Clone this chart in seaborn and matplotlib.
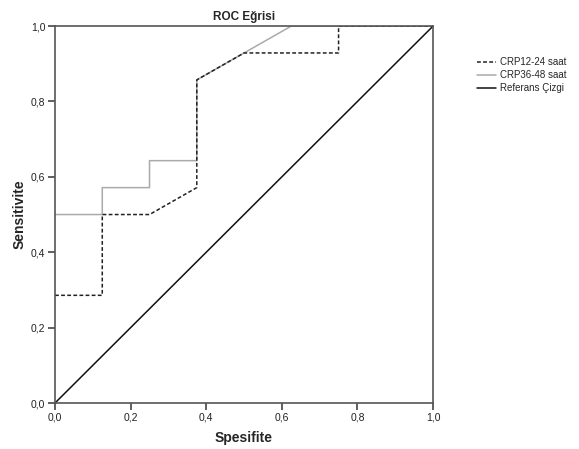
import numpy as np
import pandas as pd
import seaborn as sns
import matplotlib.pyplot as plt

#
# DATA
#

crp12_x = [0.0, 0.125, 0.125, 0.25, 0.375, 0.375, 0.5, 0.75, 0.75, 1.0]
crp12_y = [0.2857, 0.2857, 0.5, 0.5, 0.5714, 0.8571, 0.9286, 0.9286, 1.0, 1.0]

crp36_x = [0.0, 0.125, 0.125, 0.25, 0.25, 0.375, 0.375, 0.625, 1.0]
crp36_y = [0.5, 0.5, 0.5714, 0.5714, 0.6429, 0.6429, 0.8571, 1.0, 1.0]

ref_x = [0.0, 1.0]
ref_y = [0.0, 1.0]

ticks = [0.0, 0.2, 0.4, 0.6, 0.8, 1.0]
tick_labels = ["0,0", "0,2", "0,4", "0,6", "0,8", "1,0"]

#
# PLOT
#

sns.set_style("white")
plt.rcParams["font.family"] = ["Liberation Sans", "DejaVu Sans"]

fig = plt.figure(figsize=(5.79, 4.49), dpi=100)
ax = fig.add_axes([0.095, 0.1024, 0.653, 0.8396])

sns.lineplot(x=crp36_x, y=crp36_y, sort=False, estimator=None, ax=ax,
             color="#aaaaaa", linewidth=1.1, label="CRP36-48 saat")
sns.lineplot(x=crp12_x, y=crp12_y, sort=False, estimator=None, ax=ax,
             color="#222222", linewidth=1.1, linestyle=(0, (2.5, 1.5)),
             label="CRP12-24 saat")
sns.lineplot(x=ref_x, y=ref_y, sort=False, estimator=None, ax=ax,
             color="#111111", linewidth=1.1, label="Referans Çizgi")

ax.set_xlim(0, 1)
ax.set_ylim(0, 1)
ax.set_xticks(ticks)
ax.set_xticklabels(tick_labels)
ax.set_yticks(ticks)
ax.set_yticklabels(tick_labels)
ax.tick_params(direction="out", length=5, width=1.2, labelsize=7.5,
               color="#444444", labelcolor="#222222", bottom=True, left=True, pad=2)
for s in ax.spines.values():
    s.set_color("#555555")
    s.set_linewidth(1.2)

ax.set_title("ROC Eğrisi", fontsize=8.5, fontweight="bold", pad=4)
ax.set_xlabel("Spesifite", fontsize=10, fontweight="bold", labelpad=6)
ax.set_ylabel("Sensitivite", fontsize=10, fontweight="bold", labelpad=3)

handles, labels = ax.get_legend_handles_labels()
order = [1, 0, 2]
ax.legend([handles[i] for i in order], [labels[i] for i in order],
          loc="upper left", bbox_to_anchor=(1.093, 0.94), frameon=False,
          fontsize=7, handlelength=2.0, handletextpad=0.4, labelspacing=0.3)

fig.savefig("out.png", dpi=100)
